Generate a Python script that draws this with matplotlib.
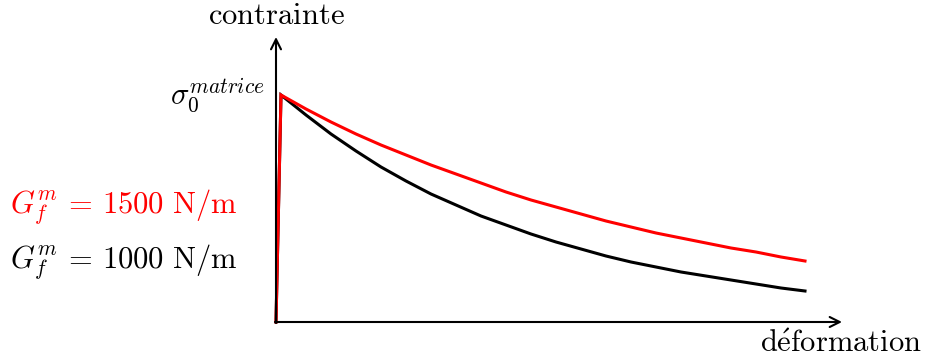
import numpy as np
import matplotlib.pyplot as plt

plt.rcParams['mathtext.fontset'] = 'cm'
plt.rcParams['font.family'] = 'serif'
plt.rcParams['font.serif'] = ['cmr10', 'DejaVu Serif']

# déformation (px from origin), contrainte (px from origin)
eps = [0, 5, 30, 55, 80, 105, 130, 155, 180, 205, 230, 255, 280,
       305, 330, 355, 380, 405, 430, 455, 480, 505, 529]
sig_1500 = [0, 227, 213, 200, 188, 177, 167, 157, 148, 139, 130, 122, 115,
            108, 101, 95, 89, 84, 79, 74, 70, 65, 61]
sig_1000 = [0, 227, 207, 188, 171, 155, 141, 128, 117, 106, 97, 88, 80,
            73, 66, 60, 55, 50, 46, 42, 38, 34, 31]

fig = plt.figure(figsize=(9.25, 3.62), dpi=100)
ax = fig.add_axes([0, 0, 1, 1])
ax.set_xlim(-276, 649)
ax.set_ylim(-40, 322)
ax.axis('off')

# axes with arrows
arw = dict(arrowstyle='->', lw=1.5, color='black', mutation_scale=18,
           shrinkA=0, shrinkB=0)
ax.annotate('', xy=(566, 0), xytext=(-1, 0), arrowprops=arw)
ax.annotate('', xy=(0, 285), xytext=(0, -1), arrowprops=arw)

ax.plot(eps, sig_1000, color='black', lw=2.2, solid_joinstyle='miter')
ax.plot(eps, sig_1500, color='#ff0000', lw=2.2, solid_joinstyle='miter')

fs = 22
ax.text(0, 292, r'$\mathrm{contrainte}$', fontsize=fs, ha='center', va='bottom')
ax.text(646, -36, r'$\mathrm{d\acute{e}formation}$', fontsize=fs,
        ha='right', va='bottom')
ax.text(-11, 226, r'$\sigma_0^{matrice}$', fontsize=fs, ha='right',
        va='center')
ax.text(-266, 115, r'$G_f^m\,=\,1500\ \mathrm{N/m}$', fontsize=fs,
        color='#ff0000', ha='left', va='center')
ax.text(-266, 60, r'$G_f^m\,=\,1000\ \mathrm{N/m}$', fontsize=fs,
        color='black', ha='left', va='center')

fig.savefig('out.png', dpi=100)
